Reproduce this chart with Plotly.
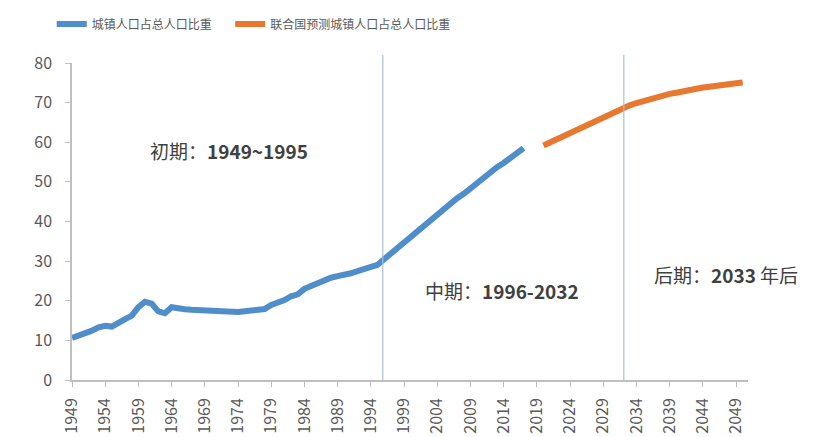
import plotly.graph_objects as go

# Actual urbanization rate (%), 1949-2017
years_actual = list(range(1949, 2018))
urban_actual = [10.64, 11.18, 11.78, 12.46, 13.31, 13.69, 13.48, 14.62, 15.39, 16.25,
                18.41, 19.75, 19.29, 17.33, 16.84, 18.37, 17.98, 17.86, 17.74, 17.62,
                17.50, 17.38, 17.26, 17.13, 17.20, 17.16, 17.34, 17.44, 17.55, 17.92,
                18.96, 19.39, 20.16, 21.13, 21.62, 23.01, 23.71, 24.52, 25.32, 25.81,
                26.21, 26.41, 26.94, 27.46, 27.99, 28.51, 29.04, 30.48, 31.91, 33.35,
                34.78, 36.22, 37.66, 39.09, 40.53, 41.76, 42.99, 44.34, 45.89, 46.99,
                48.34, 49.95, 51.27, 52.57, 53.73, 54.77, 56.10, 57.35, 58.52]

# UN projection (%), 2020-2050
years_proj = list(range(2020, 2051))
urban_proj = [59.2, 60.0, 60.9, 61.7, 62.5, 63.3, 64.1, 64.9, 65.7, 66.5,
              67.3, 68.0, 68.7, 69.3, 69.9, 70.4, 70.9, 71.4, 71.8, 72.2,
              72.5, 72.9, 73.2, 73.5, 73.8, 74.0, 74.3, 74.5, 74.7, 74.9, 75.1]

tick_years = list(range(1949, 2050, 5))
period_lines = [1995.8, 2032.1]
period_labels = ["初期：<b>1949~1995</b>", "中期：<b>1996-2032</b>", "后期：<b>2033</b> 年后"]
label_pos_x = [1972.7, 2013.8, 2047.5]
label_pos_y = [57.8, 22.7, 26.5]

series_names = ["城镇人口占总人口比重", "联合国预测城镇人口占总人口比重"]
colors = ["#4F8DCB", "#E8782F"]

X_RANGE = [1949, 2050.8]
Y_RANGE = [0, 80]
FONT = "Noto Sans CJK SC, Liberation Sans, sans-serif"
PAD = "\u00a0" * 5

fig = go.Figure()
fig.add_trace(go.Scatter(x=years_actual, y=urban_actual, mode="lines", name=series_names[0] + PAD,
                         line=dict(color=colors[0], width=6), hoverinfo="x+y"))
fig.add_trace(go.Scatter(x=years_proj, y=urban_proj, mode="lines", name=series_names[1],
                         line=dict(color=colors[1], width=6), hoverinfo="x+y"))

shapes = []
for yr in period_lines:
    xp = (yr - X_RANGE[0]) / (X_RANGE[1] - X_RANGE[0])
    shapes.append(dict(type="line", xref="paper", yref="paper", x0=xp, x1=xp, y0=0, y1=1.025,
                       line=dict(color="#A9BFD3", width=1.2)))

annotations = []
for txt, ax, ay in zip(period_labels, label_pos_x, label_pos_y):
    annotations.append(dict(x=ax, y=ay, xref="x", yref="y", text=txt, showarrow=False,
                            font=dict(family=FONT, size=19, color="#404040"),
                            xanchor="center", yanchor="middle"))

fig.update_layout(
    width=816, height=437,
    margin=dict(l=72, r=68, t=63, b=57, autoexpand=False),
    paper_bgcolor="white", plot_bgcolor="white",
    font=dict(family=FONT, color="#595959"),
    shapes=shapes, annotations=annotations,
    legend=dict(orientation="h", x=-0.03, y=1.123, xanchor="left", yanchor="middle",
                font=dict(size=12, color="#595959"), bgcolor="rgba(0,0,0,0)",
                itemwidth=30),
    showlegend=True,
)
fig.update_xaxes(range=X_RANGE, tickmode="array", tickvals=tick_years,
                 ticktext=[str(y) for y in tick_years], tickangle=-90,
                 showline=True, linecolor="#BFBFBF", linewidth=1.5,
                 ticks="outside", ticklen=5, tickcolor="#BFBFBF",
                 showgrid=False, zeroline=False, ticklabelstandoff=5,
                 tickfont=dict(size=16, color="#595959"))
fig.update_yaxes(range=Y_RANGE, dtick=10, showline=True, linecolor="#BFBFBF", linewidth=1.5,
                 ticks="outside", ticklen=5, tickcolor="#BFBFBF",
                 showgrid=False, zeroline=False, ticklabelstandoff=10,
                 tickfont=dict(size=16, color="#595959"))

fig.write_html("out.html")
